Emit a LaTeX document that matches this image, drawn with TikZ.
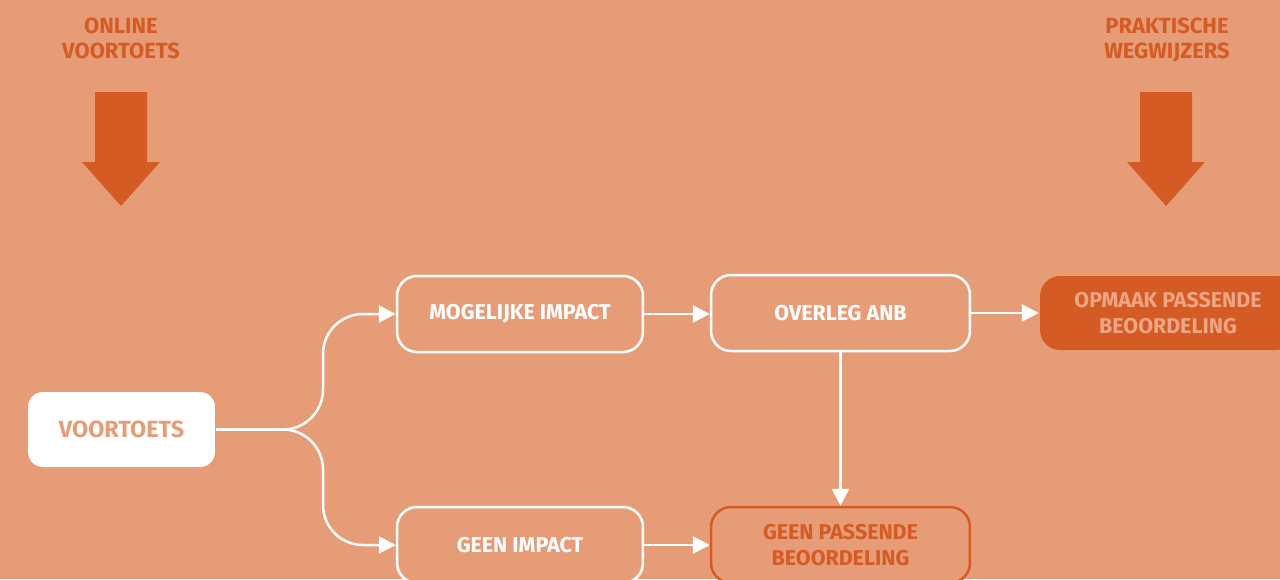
\documentclass[tikz,border=0pt]{standalone}
\usepackage{fontspec}
\setmainfont{Fira Sans}
\usetikzlibrary{arrows.meta}
\definecolor{bg}{HTML}{E79C78}
\definecolor{dk}{HTML}{D55B25}
\definecolor{lt}{HTML}{EDA584}
\tikzset{
  box/.style={draw=white, line width=0.05cm, rounded corners=0.4cm, fill=bg,
    minimum width=4.92cm, minimum height=1.52cm, align=center, inner sep=0pt,
    text=white, font=\fontsize{12.2}{14.6}\selectfont\bfseries},
  conn/.style={draw=white, line width=0.05cm, -{Triangle[length=0.34cm,width=0.34cm]}},
  toplabel/.style={text=dk, align=center, font=\fontsize{12.5}{14.2}\selectfont\bfseries},
  bigarrow/.style={fill=dk, draw=none}
}
\begin{document}
\begin{tikzpicture}[x=0.02cm,y=-0.02cm]
\useasboundingbox (0,0) rectangle (1280,579);
\clip (0,0) rectangle (1280,579);
\fill[bg] (0,0) rectangle (1280,579);
% top labels
\node[toplabel] (lbl1) at (121,38) {ONLINE\\VOORTOETS};
\node[toplabel] (lbl2) at (1167,40) {PRAKTISCHE\\WEGWIJZERS};
% big arrows
\fill[bigarrow] (95,92) -- (147,92) -- (147,162) -- (160,162) -- (121,206) -- (82,162) -- (95,162) -- cycle;
\fill[bigarrow] (1140,92) -- (1192,92) -- (1192,162) -- (1205,162) -- (1166,206) -- (1127,162) -- (1140,162) -- cycle;
% nodes
\node[box, draw=none, fill=white, text=bg, rounded corners=0.3cm, minimum width=3.74cm, minimum height=1.5cm,
  font=\fontsize{13.3}{15}\selectfont\bfseries] (voor) at (121.5,429.5) {VOORTOETS};
\node[box] (mog) at (520,314) {MOGELIJKE IMPACT};
\node[box, minimum width=5.18cm] (overleg) at (840.5,313) {OVERLEG ANB};
\node[box, draw=none, fill=dk, text=lt, minimum width=5.12cm, minimum height=1.48cm] (opmaak) at (1168,313) {OPMAAK PASSENDE\\BEOORDELING};
\node[box] (geen) at (520,545) {GEEN IMPACT};
\node[box, draw=dk, text=dk, minimum width=5.18cm] (geenpb) at (840.5,545) {GEEN PASSENDE\\BEOORDELING};
% connectors
\draw[conn, rounded corners=0.8cm] (voor.east) -- (323,429.5) |- (mog.west);
\draw[conn, rounded corners=0.8cm] (voor.east) -- (323,429.5) |- (geen.west);
\draw[conn] (mog.east) -- (overleg.west |- mog.east);
\draw[conn] (overleg.east) -- (opmaak.west);
\draw[conn] (overleg.south) -- (geenpb.north);
\draw[conn] (geen.east) -- (geenpb.west);
\end{tikzpicture}
\end{document}
